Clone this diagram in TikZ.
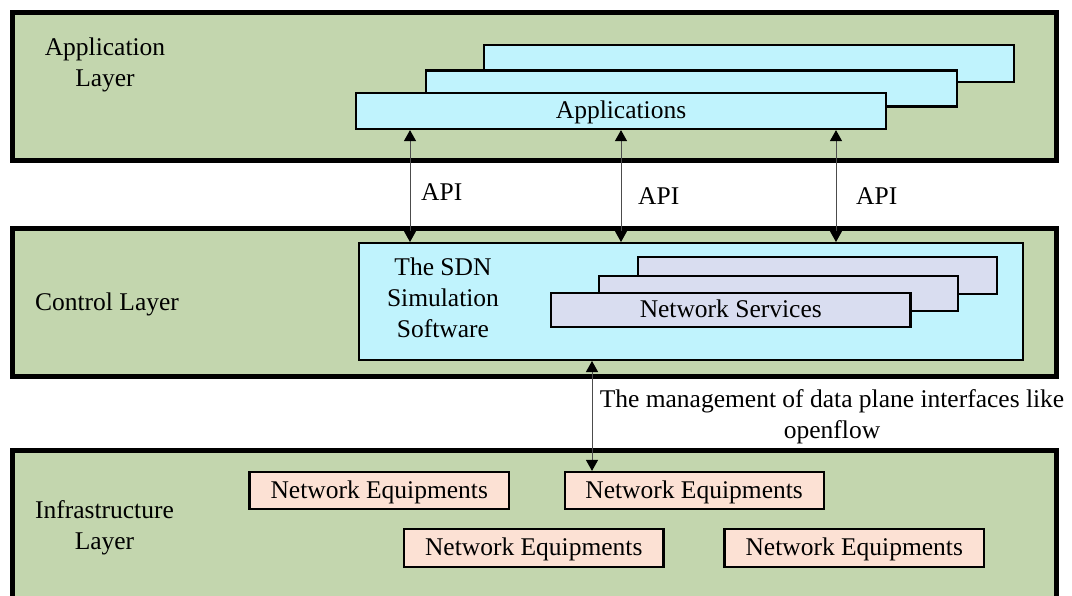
\documentclass[tikz,border=0pt]{standalone}
\usepackage{fontspec}
\setmainfont{Liberation Serif}
\usetikzlibrary{arrows.meta}

\definecolor{layergreen}{RGB}{195,214,174}
\definecolor{appcyan}{RGB}{192,243,253}
\definecolor{svclav}{RGB}{217,221,240}
\definecolor{eqsalmon}{RGB}{252,225,212}

\begin{document}
\begin{tikzpicture}[x=1pt,y=-1pt,
  layer/.style={draw, line width=5pt, fill=layergreen, inner sep=0pt},
  box/.style={draw, line width=2.2pt, inner sep=0pt, text height=15pt, text depth=0pt},
  appbox/.style={box, fill=appcyan},
  svcbox/.style={box, fill=svclav},
  eqbox/.style={box, fill=eqsalmon},
  laytext/.style={inner sep=0pt, align=center},
  tip/.tip={Triangle[width=12pt,length=11pt,color=black]},
  link/.style={draw=black!70, line width=1pt, tip-tip},
  every node/.append style={font=\fontsize{25.5}{31}\selectfont}
]
\useasboundingbox (0,0) rectangle (1072,595);
\clip (0,0) rectangle (1072,595);

% three layers
\node[layer, minimum width=1044pt, minimum height=148.5pt] (applayer) at (534,86.25) {};
\node[layer, minimum width=1044pt, minimum height=148pt] (ctrllayer) at (534,302) {};
\node[layer, minimum width=1044pt, minimum height=189.5pt] (infralayer) at (534,545.25) {};

% stacked application boxes
\node[appbox, minimum width=530pt, minimum height=37pt] (appback) at (749,63.5) {};
\node[appbox, minimum width=531pt, minimum height=36pt] (appmid) at (691.5,88.5) {};
\node[appbox, minimum width=530pt, minimum height=36pt] (apps) at (621,111) {Applications};

% controller software
\node[appbox, line width=2pt, minimum width=664pt, minimum height=117pt] (sdn) at (691,301.5) {};
\node[svcbox, minimum width=359pt, minimum height=37pt] (svcback) at (817.5,275.5) {};
\node[svcbox, minimum width=359pt, minimum height=35pt] (svcmid) at (778.5,293.5) {};
\node[svcbox, minimum width=359.5pt, minimum height=34pt] (svc) at (730.75,310) {Network Services};

% network equipments
\node[eqbox, minimum width=259.5pt, minimum height=37pt] (eq1) at (379.25,490.5) {Network Equipments};
\node[eqbox, minimum width=259pt, minimum height=37pt] (eq2) at (694.1,490.5) {Network Equipments};
\node[eqbox, minimum width=259.5pt, minimum height=38pt] (eq3) at (533.75,548) {Network Equipments};
\node[eqbox, minimum width=259.5pt, minimum height=38pt] (eq4) at (854.25,548) {Network Equipments};

% layer captions
\node[laytext] (applbl) at (105,64.6) {Application\\Layer};
\node[laytext, anchor=base] (ctrllbl) at (107,310) {Control Layer};
\node[laytext] (infralbl) at (104.5,527.6) {Infrastructure\\Layer};
\node[laytext] (sdnlbl) at (443,297.3) {The SDN\\Simulation\\Software};

% interfaces between layers
\coordinate (a1) at (410,0);
\coordinate (a2) at (621,0);
\coordinate (a3) at (836,0);
\coordinate (a4) at (592,0);
\draw[link] (apps.south -| a1) -- (sdn.north -| a1);
\draw[link] (apps.south -| a2) -- (sdn.north -| a2);
\draw[link] (apps.south -| a3) -- (sdn.north -| a3);
\draw[link] (sdn.south -| a4) -- (eq2.north -| a4);

\node[laytext, anchor=base west] (api1) at (421,200) {API};
\node[laytext, anchor=base west] (api2) at (638,204) {API};
\node[laytext, anchor=base west] (api3) at (856,204) {API};
\node[laytext] (mgmt) at (832,416.6) {The management of data plane interfaces like\\openflow};
\end{tikzpicture}
\end{document}
